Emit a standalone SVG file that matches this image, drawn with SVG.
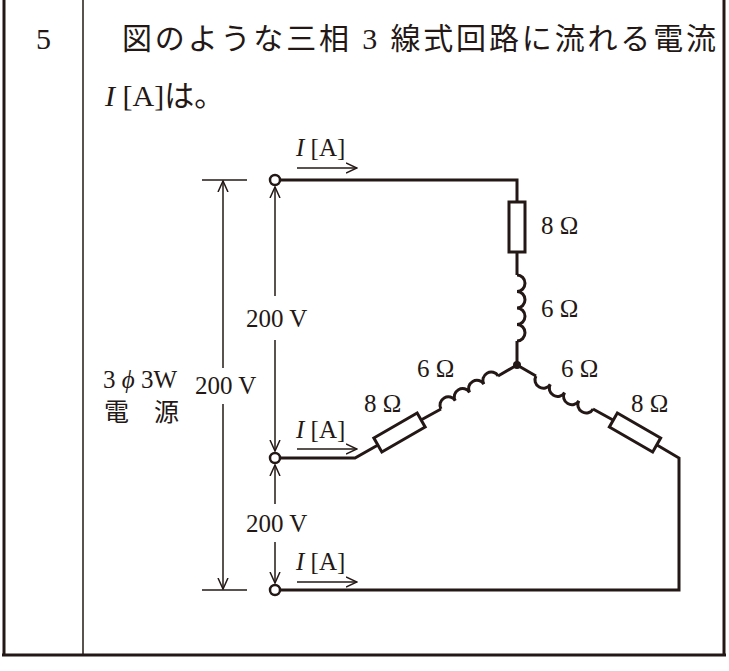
<svg xmlns="http://www.w3.org/2000/svg" width="729" height="671" viewBox="0 0 729 671">
<style>
.w{fill:none;stroke:#231815;stroke-width:3}
.t{fill:none;stroke:#231815;stroke-width:1.5}
.f{stroke:#231815;stroke-width:3}
text{font-family:"Liberation Serif","Noto Sans CJK JP",serif;fill:#231815}
.l{font-size:25px}
.q{font-size:30px}
</style>
<defs>
<marker id="a" viewBox="0 0 12 12" refX="11" refY="6" markerWidth="12" markerHeight="12" markerUnits="userSpaceOnUse" orient="auto"><path d="M0,1 L11,6 L0,11" fill="none" stroke="#231815" stroke-width="1.5"/></marker>
<path id="coil" d="M0,0 a8.25,8 0 1 1 16.5,0 a8.25,8 0 1 1 16.5,0 a8.25,8 0 1 1 16.5,0 a8.25,8 0 1 1 16.5,0"/>
</defs>
<g id="frame">
<line class="f" x1="4" y1="0" x2="4" y2="656"/>
<line class="f" x1="724" y1="0" x2="724" y2="656"/>
<line class="f" x1="2" y1="655" x2="726" y2="655"/>
<line x1="83" y1="0" x2="83" y2="655" stroke="#231815" stroke-width="1.5"/>
<text class="q" x="36" y="49">5</text>
<text class="q" x="122" y="49" textLength="594" lengthAdjust="spacing">図のような三相 3 線式回路に流れる電流</text>
<text class="q" x="105" y="106"><tspan font-style="italic">I</tspan> [A]は。</text>
</g>
<g id="connectors">
<path class="w" d="M280,180 H517 V202 M517,252 V275 M517,341 V365"/>
<path class="w" d="M441,409 L421,420 M378,445 L355,458 H280"/>
<path class="w" d="M517,365 L498,376 M517,365 L536,376"/>
<path class="w" d="M593,409 L613,420 M657,445 L679,458 V590 H280"/>
<use href="#coil" class="w" transform="translate(517,275) rotate(90)"/>
<use href="#coil" class="w" transform="translate(441,409) rotate(-30)"/>
<use href="#coil" class="w" transform="translate(536,376) rotate(30) scale(1,-1)"/>
<line class="t" x1="297" y1="168" x2="357" y2="168" marker-end="url(#a)"/>
<line class="t" x1="297" y1="449" x2="357" y2="449" marker-end="url(#a)"/>
<line class="t" x1="297" y1="582" x2="357" y2="582" marker-end="url(#a)"/>
<line class="t" x1="202" y1="180" x2="247" y2="180"/>
<line class="t" x1="202" y1="590" x2="247" y2="590"/>
<line class="t" x1="223" y1="368" x2="223" y2="181" marker-end="url(#a)"/>
<line class="t" x1="223" y1="404" x2="223" y2="589" marker-end="url(#a)"/>
<line class="t" x1="275" y1="296" x2="275" y2="187" marker-end="url(#a)"/>
<line class="t" x1="275" y1="340" x2="275" y2="451" marker-end="url(#a)"/>
<line class="t" x1="275" y1="504" x2="275" y2="465" marker-end="url(#a)"/>
<line class="t" x1="275" y1="542" x2="275" y2="583" marker-end="url(#a)"/>
</g>
<g id="resistors">
<rect class="w" x="509" y="202" width="16" height="50" fill="#fff"/>
<rect class="w" x="-25" y="-8" width="50" height="16" transform="translate(399.5,432.5) rotate(-30)"/>
<rect class="w" x="-25" y="-8" width="50" height="16" transform="translate(635,432.5) rotate(30)"/>
</g>
<g id="nodes">
<circle cx="517" cy="365" r="4" fill="#231815"/>
<circle cx="275" cy="180" r="5" fill="#fff" stroke="#231815" stroke-width="2.5"/>
<circle cx="275" cy="458" r="5" fill="#fff" stroke="#231815" stroke-width="2.5"/>
<circle cx="275" cy="590" r="5" fill="#fff" stroke="#231815" stroke-width="2.5"/>
</g>
<g id="labels" class="l">
<text x="296" y="156"><tspan font-style="italic">I</tspan> [A]</text>
<text x="296" y="438"><tspan font-style="italic">I</tspan> [A]</text>
<text x="296" y="570"><tspan font-style="italic">I</tspan> [A]</text>
<text x="246" y="327">200 V</text>
<text x="246" y="532">200 V</text>
<text x="195" y="394">200 V</text>
<text x="103" y="388">3 <tspan font-style="italic">ϕ</tspan> 3W</text>
<text x="104" y="421">電　源</text>
<text x="541" y="234">8 Ω</text>
<text x="541" y="317">6 Ω</text>
<text x="417" y="377">6 Ω</text>
<text x="561" y="377">6 Ω</text>
<text x="364" y="412">8 Ω</text>
<text x="631" y="412">8 Ω</text>
</g>
</svg>
